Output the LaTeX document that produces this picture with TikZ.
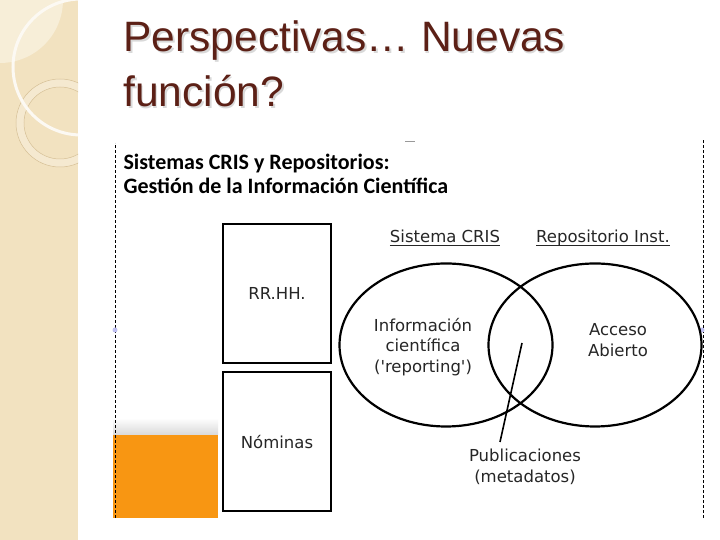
\documentclass[tikz,border=0pt]{standalone}
\usepackage{fontspec}
\setmainfont{DejaVu Sans}
\newfontfamily\titlefont{Liberation Sans}
\newfontfamily\headfont{Carlito}
\usetikzlibrary{shapes.geometric}
\definecolor{strip}{RGB}{242,226,192}
\definecolor{stripl}{RGB}{247,238,216}
\definecolor{ringc}{RGB}{214,192,150}
\definecolor{titlec}{RGB}{92,32,22}
\definecolor{orangec}{RGB}{248,150,18}
\newcommand\ulinedlbl[1]{\setbox0\hbox{#1}\rlap{\rule[-3.5pt]{\wd0}{1.5pt}}\box0}
\begin{document}
\begin{tikzpicture}[x=1pt,y=1pt,
  titletext/.style={anchor=base west,font=\titlefont\fontsize{42.5}{42.5}\selectfont,text=titlec},
  shadowtext/.style={titletext,text=black!15},
  headtext/.style={anchor=base west,font=\headfont\bfseries\fontsize{22}{22}\selectfont},
  box/.style={draw,line width=2pt,minimum width=108pt,minimum height=139pt,inner sep=0pt,font=\fontsize{16.5}{20}\selectfont,text=black!85},
  venn/.style={draw,ellipse,line width=2.2pt,minimum width=213pt,minimum height=163pt,inner sep=0pt},
  lbl/.style={align=center,font=\fontsize{16.5}{20.5}\selectfont,text=black!85}]
\useasboundingbox (0,0) rectangle (720,540);
\fill[white] (0,0) rectangle (720,540);
\fill[strip] (0,0) rectangle (78,540);
\begin{scope}
\clip (0,0) rectangle (78,540);
\fill[stripl] (0,540) circle (63);
\draw[white!25!strip,line width=8pt] (60,417) circle (40);
\draw[ringc,line width=0.5pt] (60,417) circle (44);
\draw[ringc,line width=0.5pt] (60,417) circle (36);
\draw[white!80!strip,line width=3pt] (81,473) circle (68);
\end{scope}

\node[shadowtext] (t1s) at (121.5,486.5) {Perspectivas… Nuevas};
\node[shadowtext] (t2s) at (121.5,431.5) {función?};
\node[titletext] (t1) at (120,488) {Perspectivas… Nuevas};
\node[titletext] (t2) at (120,433) {función?};

\shade[top color=white,bottom color=black!15] (113,105) rectangle (218,122);
\fill[orangec] (113,22) rectangle (218,105);
\draw[dashed,dash pattern=on 3pt off 2pt,line width=0.6pt] (115,22) -- (115,397);
\draw[dashed,dash pattern=on 3pt off 2pt,line width=0.6pt] (703,22) -- (703,400);
\draw[black!40,line width=0.8pt] (405,399) -- (415,399);
\fill[black!20!blue!25!white] (115,210) circle (2.5);
\fill[black!20!blue!25!white] (702,210) circle (2.5);

\node[headtext] (h1) at (120,370) {Sistemas CRIS y Repositorios:};
\node[headtext] (h2) at (120,346) {Gestión de la Información Científica};

\node[box] (rrhh) at (277,246.5) {RR.HH.};
\node[box] (nomina) at (277,98) {Nóminas};

\node[venn] (cris) at (446,195) {};
\node[venn] (repo) at (595,195) {};
\node[lbl] (crislbl) at (445,302) {\ulinedlbl{Sistema CRIS}};
\node[lbl] (repolbl) at (603,302) {\ulinedlbl{Repositorio Inst.}};
\node[lbl] (info) at (423,193) {Información\\científica\\(\textquotesingle reporting\textquotesingle)};
\node[lbl] (acceso) at (618,200) {Acceso\\Abierto};
\node[lbl] (pubs) at (525,73) {Publicaciones\\(metadatos)};
\coordinate (inter) at (522,197);
\coordinate (pubend) at (500,98);
\draw[line width=1.6pt] (inter) -- (pubend);
\end{tikzpicture}
\end{document}
